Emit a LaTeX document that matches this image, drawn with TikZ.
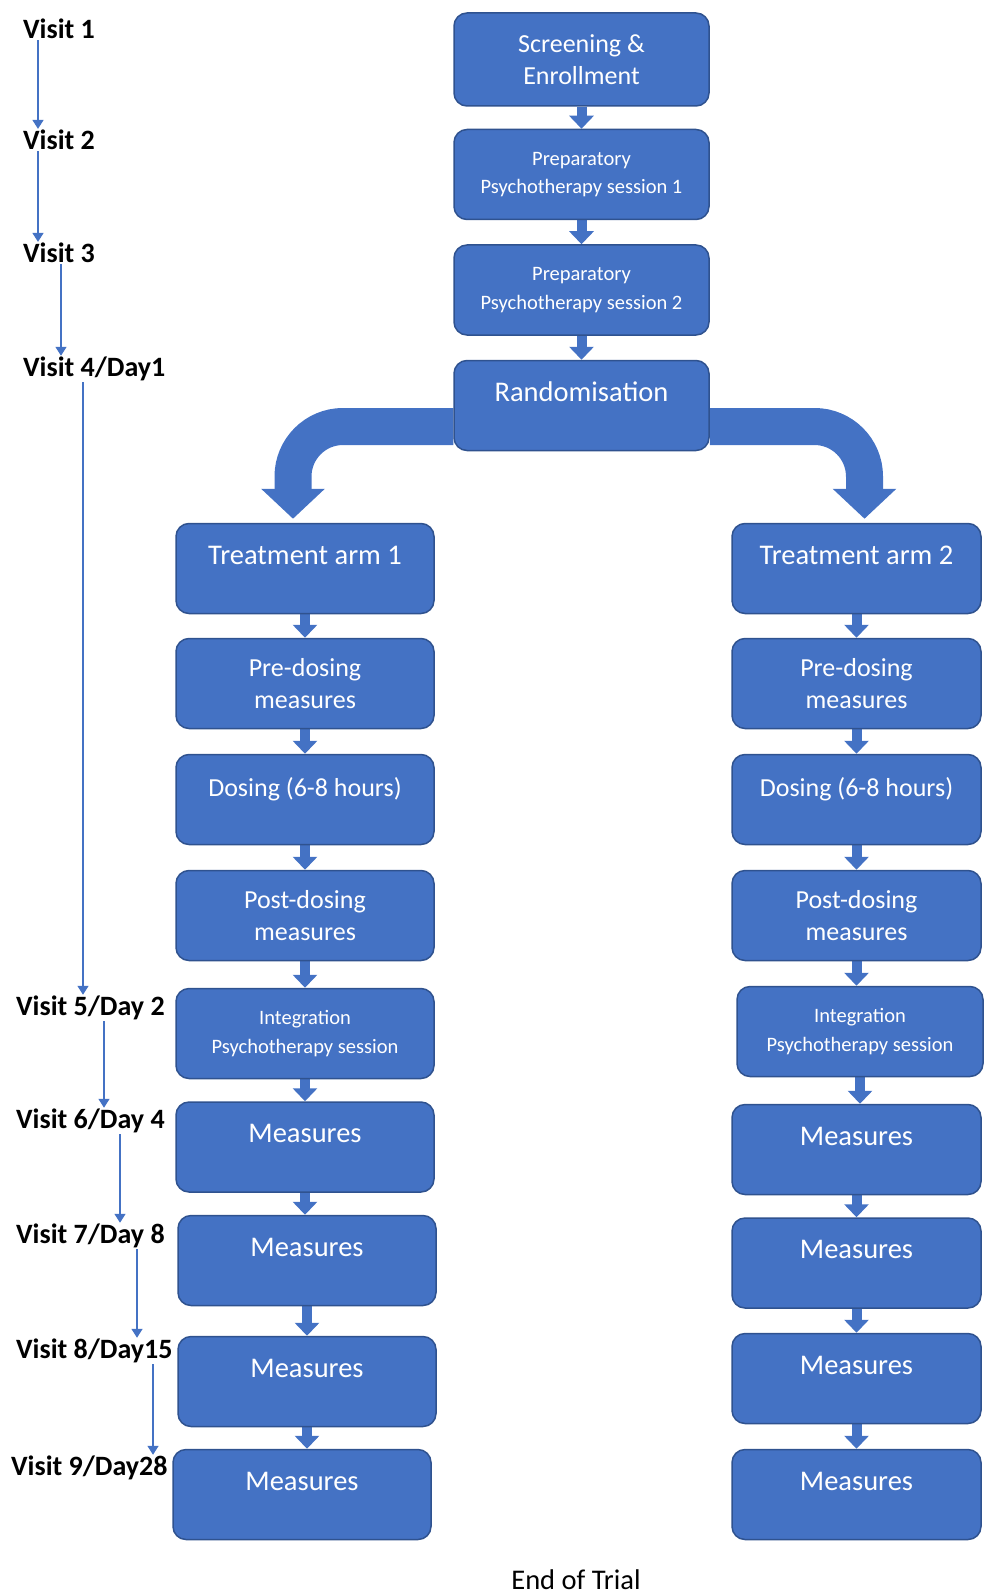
\documentclass[tikz,border=0pt]{standalone}
\usepackage{fontspec}
\setmainfont{Carlito}
\usetikzlibrary{arrows.meta,backgrounds}

\definecolor{boxblue}{HTML}{4472C4}
\definecolor{boxedge}{HTML}{2F528F}

\tikzset{
  box/.style={draw=boxedge, line width=1.5pt, fill=boxblue, rounded corners=13pt,
    text=white, align=center, minimum width=255pt, minimum height=90pt, inner sep=2pt},
  bigtext/.style={font=\fontsize{26}{32.5}\selectfont},
  oneline/.style={font=\fontsize{28.5}{32}\selectfont, text depth=27pt},
  doseline/.style={bigtext, text depth=26pt},
  smalltext/.style={font=\fontsize{20.5}{28.5}\selectfont},
  visit/.style={anchor=west, inner sep=1pt, font=\bfseries\fontsize{28}{30}\selectfont},
  visitarrow/.style={draw=boxblue, line width=1.5pt, -{Triangle[width=11pt,length=9pt]}},
  blockarrow/.style={draw=boxblue, line width=10pt, -{Triangle[width=24pt,length=13pt]}},
  randarrow/.style={draw=boxblue, line width=37pt, rounded corners=50pt,
    -{Triangle[width=62pt,length=30pt]}}
}

\begin{document}
\begin{tikzpicture}[x=1pt, y=-1pt]
  \useasboundingbox (0,0) rectangle (983,1594);

  % top chain
  \node[box, bigtext, minimum height=93pt] (screen) at (581.5,59.5) {Screening \&\\Enrollment};
  \node[box, smalltext] (prep1) at (581.5,174.5) {Preparatory\\Psychotherapy session 1};
  \node[box, smalltext] (prep2) at (581.5,290) {Preparatory\\Psychotherapy session 2};
  \node[box, oneline] (rand) at (581.5,405.5) {Randomisation};

  % arm 1
  \node[box, oneline, minimum width=258pt] (arm1) at (305,568.5) {Treatment arm 1};
  \node[box, bigtext, minimum width=258pt] (pre1) at (305,683.5) {Pre-dosing\\measures};
  \node[box, doseline, minimum width=258pt] (dose1) at (305,799.5) {Dosing (6-8 hours)};
  \node[box, bigtext, minimum width=258pt] (post1) at (305,915.5) {Post-dosing\\measures};
  \node[box, smalltext, minimum width=258pt] (integ1) at (305,1033.5) {Integration\\Psychotherapy session};
  \node[box, oneline, minimum width=258pt] (meas1a) at (305,1147) {Measures};
  \node[box, oneline, minimum width=258pt] (meas1b) at (307,1260.5) {Measures};
  \node[box, oneline, minimum width=258pt] (meas1c) at (307,1381.5) {Measures};
  \node[box, oneline, minimum width=258pt] (meas1d) at (302,1494.5) {Measures};

  % arm 2
  \node[box, oneline, minimum width=249pt] (arm2) at (856.5,568.5) {Treatment arm 2};
  \node[box, bigtext, minimum width=249pt] (pre2) at (856.5,683.5) {Pre-dosing\\measures};
  \node[box, doseline, minimum width=249pt] (dose2) at (856.5,799.5) {Dosing (6-8 hours)};
  \node[box, bigtext, minimum width=249pt] (post2) at (856.5,915.5) {Post-dosing\\measures};
  \node[box, smalltext, minimum width=246pt] (integ2) at (860,1031.5) {Integration\\Psychotherapy session};
  \node[box, oneline, minimum width=249pt] (meas2a) at (856.5,1149.5) {Measures};
  \node[box, oneline, minimum width=249pt] (meas2b) at (856.5,1263) {Measures};
  \node[box, oneline, minimum width=249pt] (meas2c) at (856.5,1378.5) {Measures};
  \node[box, oneline, minimum width=249pt] (meas2d) at (856.5,1494.5) {Measures};

  \node[font=\fontsize{28.5}{30}\selectfont] (end) at (576,1580) {End of Trial};

  % visits
  \node[visit] (v1) at (22,29) {Visit 1};
  \node[visit] (v2) at (22,140) {Visit 2};
  \node[visit] (v3) at (22,253) {Visit 3};
  \node[visit] (v4) at (22,369) {Visit 4/Day1};
  \node[visit] (v5) at (15,1008) {Visit 5/Day 2};
  \node[visit] (v6) at (15,1121) {Visit 6/Day 4};
  \node[visit] (v7) at (15,1236) {Visit 7/Day 8};
  \node[visit] (v8) at (15,1351) {Visit 8/Day15};
  \node[visit] (v9) at (10,1468) {Visit 9/Day28};

  \foreach \a/\b/\dx in {v1/v2/16, v2/v3/16, v3/v4/39, v4/v5/61,
                         v5/v6/89, v6/v7/105, v7/v8/122, v8/v9/138}
    \draw[visitarrow] ([xshift=\dx pt]\a.south west) -- ([xshift=\dx pt]\a.south west |- \b.north);

  \begin{pgfonlayer}{background}
    \foreach \a/\b in {screen/prep1, prep1/prep2, prep2/rand,
                       arm1/pre1, pre1/dose1, dose1/post1, post1/integ1,
                       integ1/meas1a, meas1a/meas1b, meas1b/meas1c, meas1c/meas1d,
                       arm2/pre2, pre2/dose2, dose2/post2, post2/integ2,
                       integ2/meas2a, meas2a/meas2b, meas2b/meas2c, meas2c/meas2d}
      \draw[blockarrow] (\a.south) -- (\a.south |- \b.north);
    \draw[randarrow] ([yshift=-21pt]rand.west) -| ([xshift=-12pt, yshift=4pt]arm1.north);
    \draw[randarrow] ([yshift=-21pt]rand.east) -| ([xshift=8pt, yshift=4pt]arm2.north);
  \end{pgfonlayer}
\end{tikzpicture}
\end{document}
